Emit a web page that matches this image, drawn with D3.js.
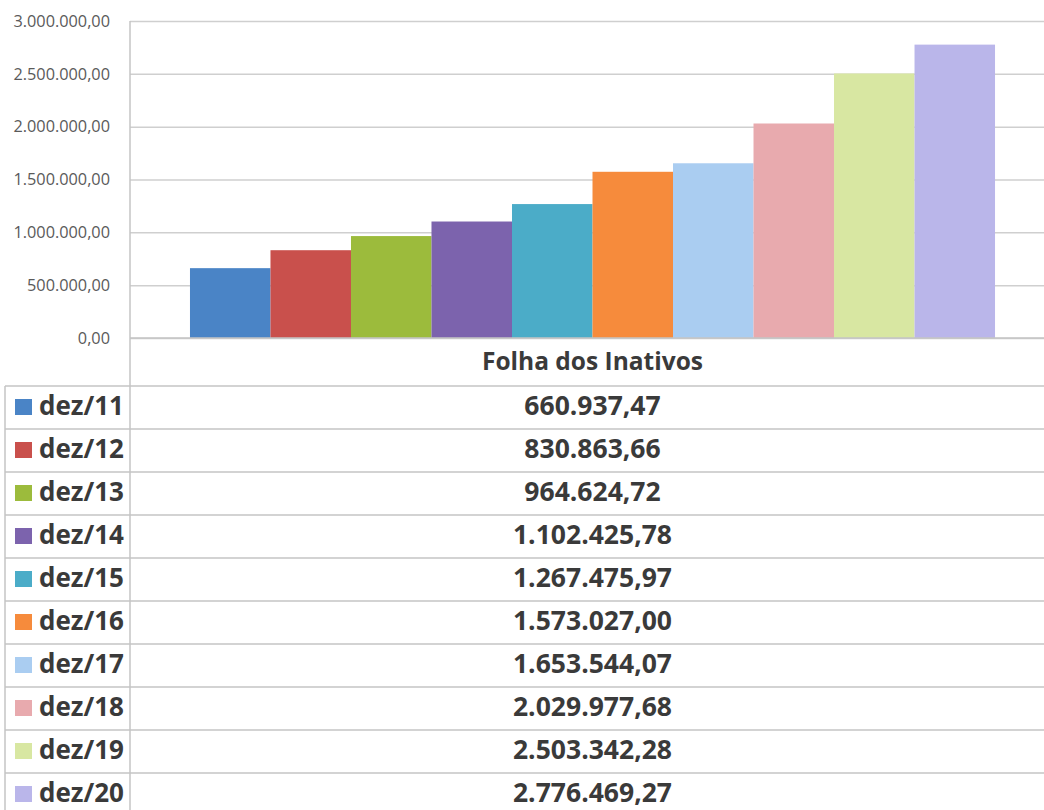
<!DOCTYPE html>
<html>
<head>
<meta charset="utf-8">
<script src="https://cdn.jsdelivr.net/npm/d3@7"></script>
<style>
	body { margin: 0; background: #fff; }
	svg { display: block; }
	.tick text { font-family: "Open Sans", sans-serif; }
	.tbl { font-family: "Open Sans", sans-serif; font-weight: bold; fill: #3a3a3a; }
</style>
</head>
<body>
<script>
'use strict'

// series (one per year) and their values for the only category
const category = "Folha dos Inativos";
const labels = ["dez/11", "dez/12", "dez/13", "dez/14", "dez/15", "dez/16", "dez/17", "dez/18", "dez/19", "dez/20"];
const values = [660937.47, 830863.66, 964624.72, 1102425.78, 1267475.97, 1573027.00, 1653544.07, 2029977.68, 2503342.28, 2776469.27];
const colors = ["#4a84c6", "#c9504c", "#9cbb3c", "#7c63ad", "#4bacc8", "#f68b3c", "#aacdf1", "#e8aaae", "#d8e7a2", "#bab6ea"];
const yTicks = [0, 500000, 1000000, 1500000, 2000000, 2500000, 3000000];

const w = 1044;
const h = 810;
const plotLeft = 130;
const plotRight = 1055;
const plotTop = 21;
const plotBottom = 338;
const rowH = 43;
const headerH = 48;

const br = d3.formatLocale({decimal: ",", thousands: ".", grouping: [3], currency: ["R$", ""]});
const fmt = br.format(",.2f");

const svg = d3.select("body")
	.append("svg")
	.attr("width", w)
	.attr("height", h);

const xOuter = d3.scaleBand()
	.domain([category])
	.range([plotLeft, plotRight])
	.paddingOuter(0.0745);

const xInner = d3.scaleBand()
	.domain(labels)
	.range([xOuter(category), xOuter(category) + xOuter.bandwidth()]);

const yScale = d3.scaleLinear()
	.domain([0, 3000000])
	.range([plotBottom, plotTop]);

// grid lines
svg.append("g")
	.attr("transform", "translate(" + plotLeft + ",0)")
	.call(d3.axisLeft(yScale).tickValues(yTicks).tickSize(-(w - plotLeft)).tickFormat(""))
	.call(g => g.select(".domain").remove())
	.call(g => g.selectAll("line").attr("stroke", "#cfcfcf").attr("stroke-width", 1.5));

// y axis labels
svg.append("g")
	.attr("transform", "translate(" + plotLeft + ",0)")
	.call(d3.axisLeft(yScale).tickValues(yTicks).tickSize(0).tickPadding(20).tickFormat(fmt))
	.call(g => g.select(".domain").remove())
	.call(g => g.selectAll("text").attr("font-size", 16.3).attr("fill", "#5a5a5a"));

// bars
svg.selectAll("rect.bar")
	.data(values)
	.enter()
	.append("rect")
	.attr("class", "bar")
	.attr("x", (d, i) => xInner(labels[i]))
	.attr("y", (d) => yScale(d))
	.attr("width", xInner.bandwidth())
	.attr("height", (d) => plotBottom - yScale(d))
	.attr("fill", (d, i) => colors[i]);

// data table below the plot
const rowScale = d3.scaleBand()
	.domain(labels)
	.range([plotBottom + headerH, plotBottom + headerH + rowH * labels.length]);

const lineColor = "#c4c4c4";

// vertical axis line, extends through the table
svg.append("line")
	.attr("x1", plotLeft).attr("x2", plotLeft)
	.attr("y1", plotTop).attr("y2", h)
	.attr("stroke", lineColor).attr("stroke-width", 1.5);

// left border of the table
svg.append("line")
	.attr("x1", 5).attr("x2", 5)
	.attr("y1", rowScale(labels[0])).attr("y2", h)
	.attr("stroke", lineColor).attr("stroke-width", 1.5);

// category axis line
svg.append("line")
	.attr("x1", plotLeft).attr("x2", w)
	.attr("y1", plotBottom).attr("y2", plotBottom)
	.attr("stroke", lineColor).attr("stroke-width", 1.5);

svg.selectAll("line.row")
	.data(labels)
	.enter()
	.append("line")
	.attr("class", "row")
	.attr("x1", 5).attr("x2", w)
	.attr("y1", (d) => rowScale(d)).attr("y2", (d) => rowScale(d))
	.attr("stroke", lineColor).attr("stroke-width", 1.5);

svg.append("text")
	.attr("class", "tbl")
	.attr("x", xOuter(category) + xOuter.bandwidth() / 2)
	.attr("y", plotBottom + headerH / 2)
	.attr("dy", "0.33em")
	.attr("text-anchor", "middle")
	.attr("font-size", 24.5)
	.text(category);

svg.selectAll("rect.key")
	.data(labels)
	.enter()
	.append("rect")
	.attr("class", "key")
	.attr("x", 15)
	.attr("y", (d) => rowScale(d) + 13)
	.attr("width", 17)
	.attr("height", 16)
	.attr("fill", (d, i) => colors[i]);

svg.selectAll("text.lbl")
	.data(labels)
	.enter()
	.append("text")
	.attr("class", "tbl lbl")
	.attr("x", 39)
	.attr("y", (d) => rowScale(d) + rowH / 2)
	.attr("dy", "0.28em")
	.attr("font-size", 26)
	.text((d) => d);

svg.selectAll("text.val")
	.data(values)
	.enter()
	.append("text")
	.attr("class", "tbl val")
	.attr("x", xOuter(category) + xOuter.bandwidth() / 2)
	.attr("y", (d, i) => rowScale(labels[i]) + rowH / 2)
	.attr("dy", "0.28em")
	.attr("text-anchor", "middle")
	.attr("font-size", 26.5)
	.text((d) => fmt(d));
</script>
</body>
</html>
